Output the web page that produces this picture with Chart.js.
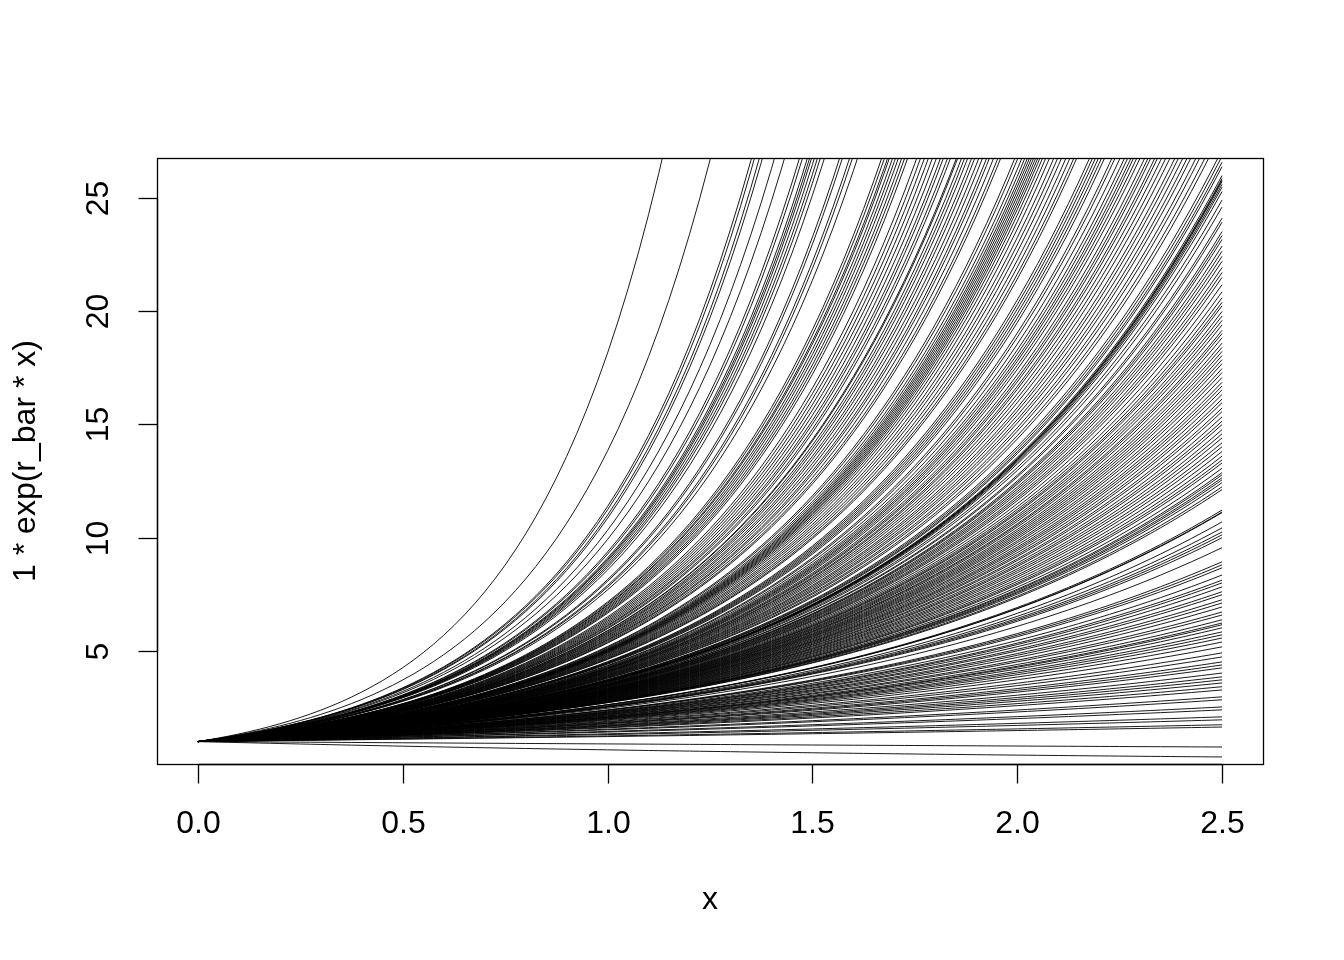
<!DOCTYPE html>
<html>
<head>
<meta charset="utf-8">
<script src="https://cdn.jsdelivr.net/npm/chart.js@4"></script>
<style>
  html, body { margin: 0; padding: 0; background: #ffffff; }
  #wrap { width: 1344px; height: 960px; }
</style>
</head>
<body>
<div id="wrap"><canvas id="c" width="1344" height="960"></canvas></div>
<script>
// ---- data ----
const startValue = 1;                 // N0 in "1 * exp(r_bar * x)"
const xFrom = 0, xTo = 2.5;           // curve domain
const samplesPerCurve = 101;          // R curve() default n
// growth rates of curves that leave the plot through the top edge
const ratesSteep = [2.899, 2.627, 2.432, 2.419, 2.398, 2.385, 2.335, 2.295, 2.238, 2.227,
  2.209, 2.201, 2.194, 2.184, 2.173, 2.163, 2.149, 2.098, 2.089, 2.066, 2.057, 2.041,
  1.969, 1.961, 1.952, 1.947, 1.938, 1.930, 1.922, 1.913, 1.905, 1.897, 1.873, 1.863,
  1.853, 1.843, 1.833, 1.823, 1.813, 1.806, 1.796, 1.789, 1.775, 1.772, 1.763, 1.756,
  1.749, 1.740, 1.733, 1.724, 1.716, 1.707, 1.701, 1.692, 1.683, 1.677, 1.648, 1.642,
  1.634, 1.628, 1.623, 1.619, 1.615, 1.611, 1.607, 1.603, 1.599, 1.594, 1.588, 1.581,
  1.573, 1.566, 1.559, 1.551, 1.544, 1.537, 1.532, 1.510, 1.505, 1.500, 1.495, 1.490,
  1.485, 1.473, 1.468, 1.460, 1.453, 1.448, 1.443, 1.439, 1.434, 1.429, 1.422, 1.417,
  1.413, 1.407, 1.403, 1.397, 1.391, 1.385, 1.378, 1.373, 1.367, 1.361, 1.356, 1.349,
  1.344, 1.337, 1.332, 1.320, 1.316];
// growth rates of curves that end inside the plot at x = 2.5
const ratesInside = [1.312, 1.309, 1.303, 1.301, 1.300, 1.299, 1.297, 1.295, 1.292, 1.286,
  1.281, 1.273, 1.270, 1.263, 1.260, 1.257, 1.252, 1.248, 1.244, 1.240, 1.235, 1.231,
  1.227, 1.221, 1.215, 1.210, 1.206, 1.203,
  1.198, 1.194, 1.190, 1.186, 1.181, 1.178, 1.174, 1.169, 1.165, 1.161, 1.157, 1.153,
  1.149, 1.144, 1.140, 1.135, 1.130, 1.126, 1.122, 1.117, 1.112, 1.108, 1.102, 1.098,
  1.092, 1.087, 1.083, 1.077, 1.072, 1.067, 1.061, 1.056, 1.050, 1.044, 1.039, 1.035,
  1.028, 1.022, 1.019, 1.015, 1.012, 1.008, 1.002, 0.998, 0.967, 0.964, 0.963, 0.948,
  0.938, 0.931, 0.926, 0.921, 0.903, 0.876, 0.870, 0.864, 0.849, 0.838, 0.832, 0.823,
  0.812, 0.805, 0.793, 0.785, 0.775, 0.762, 0.754, 0.741, 0.732, 0.727, 0.718, 0.706,
  0.697, 0.687, 0.674, 0.658, 0.637, 0.622, 0.603, 0.591, 0.579, 0.557, 0.540, 0.526,
  0.511, 0.492, 0.475, 0.436, 0.418, 0.371, 0.350, 0.295, 0.269, 0.222, 0.198,
  -0.110, -0.456];
const yDataRange = [1, 25.77];        // range of the first plotted curve (sets ylim)
const xTicks = [0, 0.5, 1, 1.5, 2, 2.5];
const xTickLabels = ["0.0", "0.5", "1.0", "1.5", "2.0", "2.5"];
const yTicks = [5, 10, 15, 20, 25];
const yTickLabels = ["5", "10", "15", "20", "25"];
const xTitle = "x";
const yTitle = "1 * exp(r_bar * x)";

// ---- build datasets ----
const allRates = ratesSteep.concat(ratesInside);
const xs = [];
for (let i = 0; i < samplesPerCurve; i++) xs.push(xFrom + (xTo - xFrom) * i / (samplesPerCurve - 1));
const datasets = allRates.map(r => ({
  data: xs.map(x => ({ x: x, y: startValue * Math.exp(r * x) })),
  borderColor: '#000000',
  borderWidth: 0.9,
  pointRadius: 0,
  fill: false,
  tension: 0
}));

const pad = (a, b) => [a - 0.04 * (b - a), b + 0.04 * (b - a)];
const xLim = pad(xFrom, xTo);
const yLim = pad(yDataRange[0], yDataRange[1]);

const FONT = '32px "Liberation Sans", Arial, sans-serif';

const axesPlugin = {
  id: 'rAxes',
  afterDraw(chart) {
    const ctx = chart.ctx;
    const a = chart.chartArea;
    const sx = chart.scales.x, sy = chart.scales.y;
    ctx.save();
    ctx.strokeStyle = '#000';
    ctx.fillStyle = '#000';
    ctx.lineWidth = 1.3;
    // box
    ctx.strokeRect(Math.round(a.left) + 0.5, Math.round(a.top) + 0.5,
      Math.round(a.right - a.left), Math.round(a.bottom - a.top));
    const tick = 19;
    // x axis
    const bx = Math.round(a.bottom) + 0.5;
    const x0 = Math.round(sx.getPixelForValue(xTicks[0])) + 0.5;
    const x1 = Math.round(sx.getPixelForValue(xTicks[xTicks.length - 1])) + 0.5;
    ctx.beginPath(); ctx.moveTo(x0, bx); ctx.lineTo(x1, bx); ctx.stroke();
    ctx.font = FONT;
    ctx.textAlign = 'center';
    ctx.textBaseline = 'middle';
    xTicks.forEach((v, i) => {
      const px = Math.round(sx.getPixelForValue(v)) + 0.5;
      ctx.beginPath(); ctx.moveTo(px, bx); ctx.lineTo(px, bx + tick); ctx.stroke();
      ctx.fillText(xTickLabels[i], px, a.bottom + 60);
    });
    // y axis
    const lx = Math.round(a.left) + 0.5;
    const y0 = Math.round(sy.getPixelForValue(yTicks[0])) + 0.5;
    const y1 = Math.round(sy.getPixelForValue(yTicks[yTicks.length - 1])) + 0.5;
    ctx.beginPath(); ctx.moveTo(lx, y0); ctx.lineTo(lx, y1); ctx.stroke();
    yTicks.forEach((v, i) => {
      const py = Math.round(sy.getPixelForValue(v)) + 0.5;
      ctx.beginPath(); ctx.moveTo(lx, py); ctx.lineTo(lx - tick, py); ctx.stroke();
      ctx.save();
      ctx.translate(a.left - 58, py);
      ctx.rotate(-Math.PI / 2);
      ctx.fillText(yTickLabels[i], 0, 0);
      ctx.restore();
    });
    // titles
    ctx.fillText(xTitle, (a.left + a.right) / 2, a.bottom + 136);
    ctx.save();
    ctx.translate(a.left - 131, (a.top + a.bottom) / 2);
    ctx.rotate(-Math.PI / 2);
    ctx.fillText(yTitle, 0, 0);
    ctx.restore();
    ctx.restore();
  }
};

new Chart(document.getElementById('c'), {
  type: 'line',
  data: { datasets: datasets },
  options: {
    responsive: false,
    animation: false,
    events: [],
    parsing: false,
    normalized: true,
    layout: { padding: { left: 157, right: 81, top: 158, bottom: 196 } },
    plugins: { legend: { display: false }, tooltip: { enabled: false } },
    scales: {
      x: { type: 'linear', min: xLim[0], max: xLim[1], display: false },
      y: { type: 'linear', min: yLim[0], max: yLim[1], display: false }
    }
  },
  plugins: [axesPlugin]
});
</script>
</body>
</html>
